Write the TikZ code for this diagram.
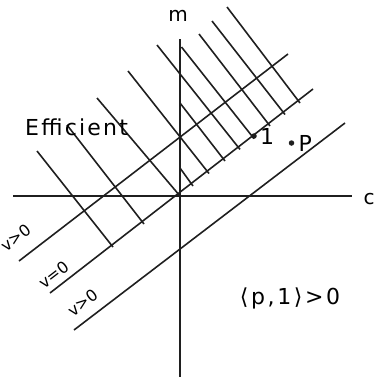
\documentclass[tikz,border=0pt]{standalone}
\usepackage{fontspec}
\setmainfont{DejaVu Sans}
\usetikzlibrary{positioning}

\begin{document}
\begin{tikzpicture}[
    x=1pt, y=-1pt,
    pen/.style={line width=1.6pt, black!88},
    axlab/.style={font=\fontsize{20}{20}\selectfont, inner sep=0pt},
    biglab/.style={font=\fontsize{22}{22}\selectfont, inner sep=0pt},
    vlab/.style={font=\fontsize{16}{16}\selectfont, inner sep=0pt, rotate=37.5},
    dot/.style={circle, fill=black!88, inner sep=0pt, minimum size=5.5pt},
  ]
  \useasboundingbox (0,0) rectangle (376,378);

  \draw[pen] (13,196) -- (352,196);
  \draw[pen] (180,39) -- (180,377);
  \node[axlab] (cl) at (369,199) {c};
  \node[axlab] (ml) at (178,16) {m};

  \draw[pen] (19,261) -- (288,54);
  \draw[pen] (50,293) -- (313,89);
  \draw[pen] (74,330) -- (345,123);

  \draw[pen] (37,151) -- (113,247);
  \draw[pen] (67,125) -- (144,224);
  \draw[pen] (97,98) -- (180,196);
  \draw[pen] (128,71) -- (209,173.5);
  \draw[pen] (157,45) -- (240,149.4);
  \draw[pen] (181.5,47) -- (254,138.6);
  \draw[pen] (199,34) -- (270,126);
  \draw[pen] (212,21) -- (285,114.5);
  \draw[pen] (227,7) -- (300,103);
  \draw[pen] (180,103) -- (225,161);
  \draw[pen] (180,168) -- (193,186);

  \node[biglab, anchor=base west] (eff) at (25,135) {\addfontfeatures{LetterSpace=10}Efficient};
  \node[vlab] (vup) at (16,238) {v>0};
  \node[vlab] (vzero) at (54,274.5) {v=0};
  \node[vlab] (vlow) at (83,302.5) {v>0};

  \node[dot] (one) at (254,136) {};
  \node[biglab, right=3pt of one] (onel) {1};
  \node[dot] (pt) at (291.5,143) {};
  \node[biglab, right=4pt of pt] (ptl) {P};

  \node[biglab] (ineq) at (290,298) {\addfontfeatures{LetterSpace=12}⟨p,1⟩>0};
\end{tikzpicture}
\end{document}
